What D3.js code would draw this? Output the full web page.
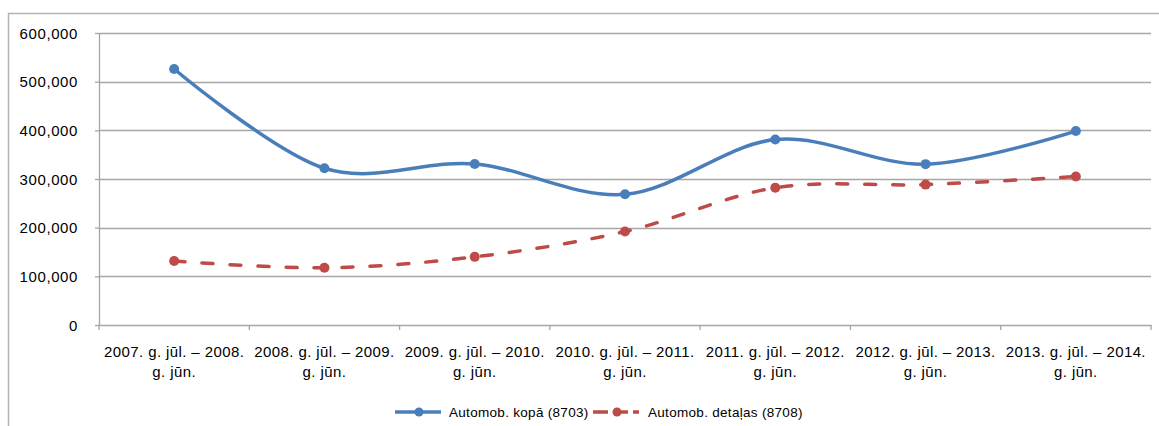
<html>
<head>
<style>
  body { margin:0; background:#fff; }
  svg text { font-family: "Liberation Sans", Arial, sans-serif; fill:#000; }
  .grid line { stroke:#a6a6a6; stroke-width:1.3; }
  .axis path, .axis line { stroke:#a6a6a6; stroke-width:1.3; }
</style>
</head>
<body>
<svg id="chart" width="1159" height="426"></svg>
<script src="https://d3js.org/d3.v7.min.js"></script>
<script>
// data
var categories = [
  ["2007. g. jūl. – 2008.", "g. jūn."],
  ["2008. g. jūl. – 2009.", "g. jūn."],
  ["2009. g. jūl. – 2010.", "g. jūn."],
  ["2010. g. jūl. – 2011.", "g. jūn."],
  ["2011. g. jūl. – 2012.", "g. jūn."],
  ["2012. g. jūl. – 2013.", "g. jūn."],
  ["2013. g. jūl. – 2014.", "g. jūn."]
];
var kopa = [526000, 322000, 331000, 268500, 381000, 330500, 398500];
var detalas = [131500, 117500, 140000, 192000, 282000, 288500, 305000];
var yTicks = [0, 100000, 200000, 300000, 400000, 500000, 600000];
var seriesNames = ["Automob. kopā (8703)", "Automob. detaļas (8708)"];

var svg = d3.select("#chart");
var mLeft = 99, mRight = 1151, mTop = 33, mBottom = 325;
var blue = "#4a7ebb", red = "#be4b48";

// chart frame
svg.append("path")
  .attr("d", "M8.5,426V13.5H1159")
  .attr("fill", "none").attr("stroke", "#b3b3b3").attr("stroke-width", 1.5);

var idx = d3.range(categories.length);
var x = d3.scaleBand().domain(idx).range([mLeft, mRight]);
var y = d3.scaleLinear().domain([0, 600000]).range([mBottom, mTop]);
var cx = function(i){ return x(i) + x.bandwidth() / 2; };

// gridlines
svg.append("g").attr("class", "grid")
  .selectAll("line").data(yTicks.slice(1)).enter().append("line")
  .attr("x1", mLeft).attr("x2", mRight)
  .attr("y1", function(d){ return Math.round(y(d)) + 0.5; })
  .attr("y2", function(d){ return Math.round(y(d)) + 0.5; });

// y axis
var yAxis = svg.append("g").attr("class", "axis")
  .attr("transform", "translate(" + mLeft + ",0)")
  .call(d3.axisLeft(y).tickValues(yTicks).tickSize(4).tickSizeOuter(0)
    .tickFormat(d3.format(",")));
yAxis.selectAll("text").attr("x", -21).attr("dy", "0.35em")
  .attr("fill", "#000")
  .style("font-size", "15px").style("letter-spacing", "0.6px");

// x axis
var xAxis = svg.append("g").attr("class", "axis")
  .attr("transform", "translate(0," + mBottom + ")")
  .call(d3.axisBottom(x).tickSize(0).tickSizeOuter(0).tickFormat(""));
xAxis.selectAll("line.tk").data(d3.range(categories.length + 1)).enter()
  .append("line").attr("class", "tk")
  .attr("x1", function(i){ return mLeft + i * x.bandwidth(); })
  .attr("x2", function(i){ return mLeft + i * x.bandwidth(); })
  .attr("y1", 0).attr("y2", 5);

var lab = svg.append("g").selectAll("text").data(categories).enter()
  .append("text")
  .attr("text-anchor", "middle")
  .style("font-size", "15px").style("letter-spacing", "0.4px");
lab.append("tspan")
  .attr("x", function(d, i){ return cx(i); }).attr("y", 357)
  .text(function(d){ return d[0]; });
lab.append("tspan")
  .attr("x", function(d, i){ return cx(i); }).attr("y", 377)
  .text(function(d){ return d[1]; });

// lines
var line = d3.line()
  .x(function(d, i){ return cx(i); })
  .y(function(d){ return y(d); })
  .curve(d3.curveCardinal.tension(0));

svg.append("path").datum(kopa)
  .attr("d", line).attr("fill", "none")
  .attr("stroke", blue).attr("stroke-width", 3.5);
svg.append("path").datum(detalas)
  .attr("d", line).attr("fill", "none")
  .attr("stroke", red).attr("stroke-width", 3.5)
  .attr("stroke-dasharray", "11,17").attr("stroke-linecap", "round");

svg.append("g").selectAll("circle").data(kopa).enter().append("circle")
  .attr("cx", function(d, i){ return cx(i); })
  .attr("cy", function(d){ return y(d); })
  .attr("r", 5).attr("fill", blue);
svg.append("g").selectAll("circle").data(detalas).enter().append("circle")
  .attr("cx", function(d, i){ return cx(i); })
  .attr("cy", function(d){ return y(d); })
  .attr("r", 5).attr("fill", red);

// legend
var legX = [395, 593], legY = 412;
var leg = svg.append("g").selectAll("g").data(seriesNames).enter().append("g")
  .attr("transform", function(d, i){ return "translate(" + legX[i] + "," + legY + ")"; });
leg.append("line").attr("x1", 0).attr("x2", 46)
  .attr("stroke", function(d, i){ return i ? red : blue; })
  .attr("stroke-width", 3.5)
  .attr("stroke-dasharray", function(d, i){ return i ? "15,5" : null; });
leg.append("circle").attr("cx", 24).attr("r", 4.5)
  .attr("fill", function(d, i){ return i ? red : blue; });
leg.append("text")
  .attr("x", function(d, i){ return i ? 55 : 54; }).attr("dy", "0.35em")
  .style("font-size", "13.5px").style("letter-spacing", "0.3px")
  .text(function(d){ return d; });
</script>
</body>
</html>
